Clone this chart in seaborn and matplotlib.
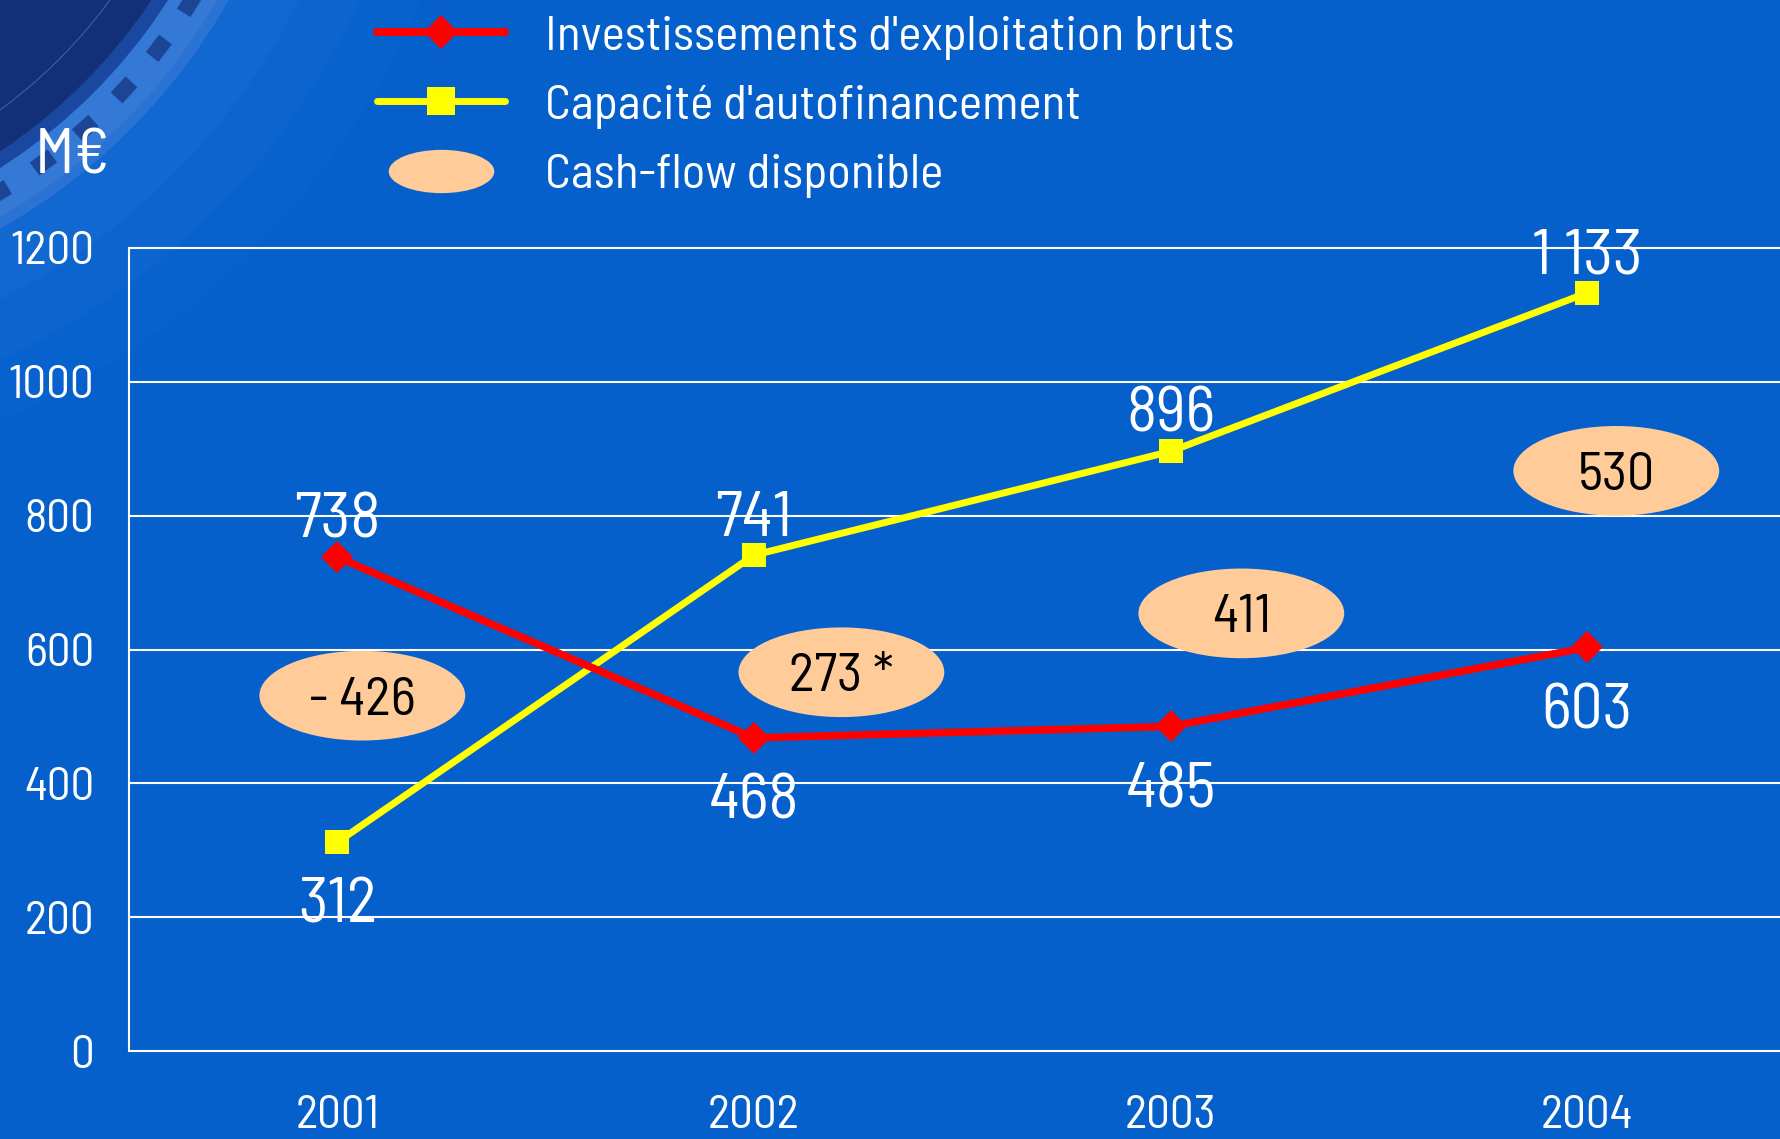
"""Investissements, capacité d'autofinancement et cash-flow disponible 2001-2004."""

import matplotlib

matplotlib.use("Agg")
import matplotlib.pyplot as plt
import numpy as np
import pandas as pd
import seaborn as sns
from matplotlib.lines import Line2D
from matplotlib.patches import Circle, Ellipse, Rectangle
from matplotlib.path import Path
from matplotlib.transforms import Affine2D

# --- data -----------------------------------------------------------------
years = ["2001", "2002", "2003", "2004"]
invest = [738, 468, 485, 603]
caf = [312, 741, 896, 1133]
cash_flow = ["- 426", "273 *", "411", "530"]

invest_name = "Investissements d'exploitation bruts"
caf_name = "Capacité d'autofinancement"
cash_name = "Cash-flow disponible"
unit_label = "M€"
y_ticks = [0, 200, 400, 600, 800, 1000, 1200]

# --- layout ---------------------------------------------------------------
invest_side = ["above", "below", "below", "below"]
caf_side = ["below", "above", "above", "above"]
bubble_dx = [0.06, 0.21, 0.17, 0.07]
bubble_y = [531, 566, 654, 867]
bubble_w, bubble_h = 0.494, 134

BG = "#0560cc"
RED = "#ff0000"
YELLOW = "#ffff00"
PEACH = "#ffcc99"
FONT = ["Barlow Semi Condensed", "Barlow Condensed", "DejaVu Sans"]
W, H = 1780, 1139


def fmt(v):
    return f"{v:,}".replace(",", " ")


def draw_corner(bg):
    # dark disc peeking in from the top-left corner
    cx, cy = -300, -300
    for r, a in [(780, 0.05), (725, 0.07), (670, 0.09)]:
        bg.add_patch(Circle((cx, cy), r, color="#4a90e6", alpha=a, lw=0))
    bg.add_patch(Circle((cx, cy), 608, color="#2a72d4", lw=0))
    bg.add_patch(Circle((cx, cy), 598, color="#3479d6", lw=0))
    bg.add_patch(Circle((cx, cy), 556, color="#1a47a0", lw=0))
    bg.add_patch(Circle((cx, cy), 542, color="#132f78", lw=0))
    bg.add_patch(Circle((cx, cy), 508, fill=False, ec="#5a8fdc", lw=0.8, alpha=0.5))
    for ang in np.arange(21, 70, 5.4):
        t = np.deg2rad(ang)
        px, py = cx + 576 * np.cos(t), cy + 576 * np.sin(t)
        rect = Rectangle((-11, -8), 22, 16, color="#1c4596", lw=0)
        rect.set_transform(Affine2D().rotate(t + np.pi / 2).translate(px, py) + bg.transData)
        bg.add_patch(rect)


def main():
    sns.set_theme(style="white")
    plt.rcParams["font.family"] = FONT

    fig = plt.figure(figsize=(W / 100, H / 100), dpi=100)
    fig.patch.set_facecolor(BG)

    bg = fig.add_axes([0, 0, 1, 1], zorder=-1)
    bg.set_xlim(0, W)
    bg.set_ylim(H, 0)
    bg.axis("off")
    draw_corner(bg)

    ax = fig.add_axes([129 / W, 1 - 1051 / H, 1 - 129 / W, (1051 - 248) / H])
    ax.patch.set_alpha(0)

    pos = np.arange(len(years))
    frame = pd.DataFrame(
        {
            "pos": np.concatenate([pos, pos]),
            "value": invest + caf,
            "series": [invest_name] * len(years) + [caf_name] * len(years),
        }
    )

    for i, label in enumerate(cash_flow):
        ax.add_patch(
            Ellipse((pos[i] + bubble_dx[i], bubble_y[i]), bubble_w, bubble_h,
                    color=PEACH, lw=0, zorder=3)
        )
        ax.annotate(label, (pos[i] + bubble_dx[i], bubble_y[i]), xytext=(0, -13.7),
                    textcoords="offset points", ha="center", va="baseline",
                    fontsize=39, color="black", zorder=4)

    sns.lineplot(data=frame[frame.series == caf_name], x="pos", y="value", color=YELLOW,
                 marker="s", markersize=17.5, markeredgewidth=0, linewidth=5,
                 ax=ax, legend=False, zorder=5)
    sns.lineplot(data=frame[frame.series == invest_name], x="pos", y="value", color=RED,
                 marker="D", markersize=16.5, markeredgewidth=0, linewidth=5.4,
                 ax=ax, legend=False, zorder=6)

    for values, sides in [(invest, invest_side), (caf, caf_side)]:
        for i, v in enumerate(values):
            dy = 14 if sides[i] == "above" else -58
            ax.annotate(fmt(v), (pos[i], v), xytext=(0, dy), textcoords="offset points",
                        ha="center", va="baseline", fontsize=46, color="white", zorder=7)

    ax.set_xlim(-0.5, -0.5 + (W - 129) / 416.6)
    ax.set_ylim(0, 1200)
    ax.set_xticks(pos)
    ax.set_xticklabels(years)
    ax.set_xticks(np.r_[-0.5, pos[:-1] + 0.5], minor=True)
    ax.set_yticks(y_ticks)
    ax.set_xlabel("")
    ax.set_ylabel("")
    ax.tick_params(axis="x", which="major", length=0, pad=32, labelsize=34, labelcolor="white")
    ax.tick_params(axis="x", which="minor", length=11.5, width=1.5, color="white", direction="out")
    ax.tick_params(axis="y", length=10, width=1.5, color="white", direction="out",
                   pad=15, labelsize=34, labelcolor="white")
    ax.grid(axis="y", color="white", linewidth=1.5)
    ax.grid(axis="x", visible=False)
    for gl in ax.get_ygridlines():
        gl.set_clip_on(False)
    for side in ["top", "right", "bottom"]:
        ax.spines[side].set_visible(False)
    ax.spines["left"].set_color("white")
    ax.spines["left"].set_linewidth(1.5)

    fig.text(35 / W, 1 - 173 / H, unit_label, ha="left", va="baseline",
             fontsize=46, color="white")

    ellipse_marker = Path.unit_circle().transformed(Affine2D().scale(1, 0.41))
    handles = [
        Line2D([], [], color=RED, lw=5.8, marker="D", markersize=17, markeredgewidth=0),
        Line2D([], [], color=YELLOW, lw=5, marker="s", markersize=19.5, markeredgewidth=0),
        Line2D([], [], linestyle="none", marker=ellipse_marker, markersize=76,
               color=PEACH, markeredgewidth=0),
    ]
    leg = fig.legend(handles, [invest_name, caf_name, cash_name],
                     loc="upper left", bbox_to_anchor=(377 / W, 1 - 15 / H),
                     frameon=False, fontsize=35.5, handlelength=2.6, handletextpad=0.81,
                     labelspacing=0.5, borderpad=0, borderaxespad=0)
    for text in leg.get_texts():
        text.set_color("white")

    fig.savefig("out.png", dpi=100, facecolor=fig.get_facecolor())
    plt.close(fig)


if __name__ == "__main__":
    main()
